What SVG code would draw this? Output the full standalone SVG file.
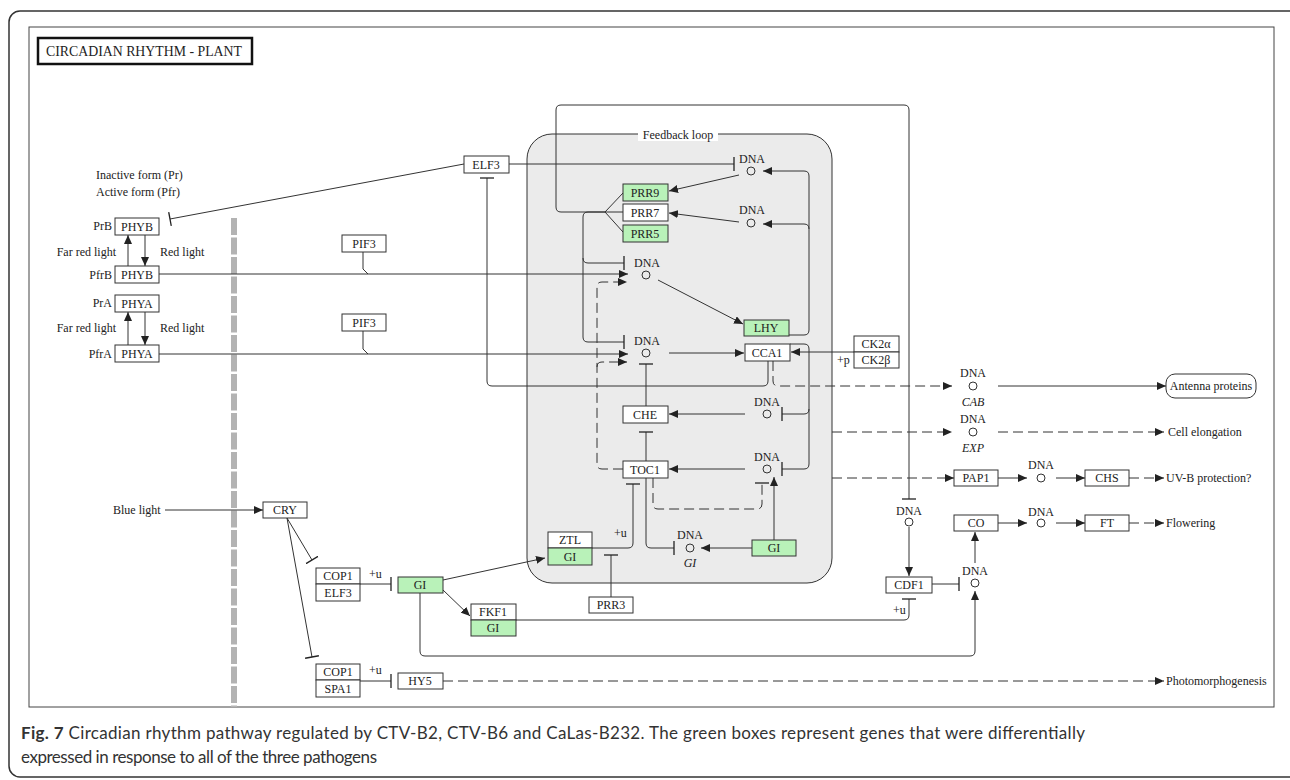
<svg xmlns="http://www.w3.org/2000/svg" width="1290" height="780" viewBox="0 0 1290 780">
<style>
.t{font-family:"Liberation Serif","Times New Roman",serif;font-size:12px;fill:#222}
.c{text-anchor:middle}
.r{text-anchor:end}
.i{font-style:italic}
.box{fill:#fff;stroke:#333;stroke-width:1}
.g{fill:#b9f2b9;stroke:#333;stroke-width:1}
.ln{fill:none;stroke:#333;stroke-width:1}
.d{stroke-dasharray:10 5}
.a{marker-end:url(#arr)}
.tb{marker-end:url(#tee)}
.dna{fill:none;stroke:#333;stroke-width:1}
.cap{font-family:Lato,"Open Sans",sans-serif;font-size:17px;fill:#333}
</style>
<defs>
<marker id="arr" markerUnits="userSpaceOnUse" markerWidth="9" markerHeight="8" refX="9" refY="4" orient="auto" viewBox="0 0 9 8"><path d="M0,0 L9,4 L0,8 z" fill="#222"/></marker>
<marker id="tee" markerUnits="userSpaceOnUse" markerWidth="4" markerHeight="14" refX="2" refY="7" orient="auto" viewBox="0 0 4 14"><path d="M2,0 V14" stroke="#222" stroke-width="1.3"/></marker>
</defs>
<rect width="1290" height="780" fill="#fff"/>
<rect x="9" y="11" width="1310" height="766" rx="11" fill="none" stroke="#333" stroke-width="1.5"/>
<rect x="29" y="27" width="1245" height="680" fill="none" stroke="#444" stroke-width="1"/>
<g id="title"><rect x="38" y="38" width="214" height="26" fill="#fff" stroke="#111" stroke-width="2.5"/><text class="t" x="46" y="56" style="font-size:14px" textLength="196" lengthAdjust="spacingAndGlyphs">CIRCADIAN  RHYTHM - PLANT</text></g>
<line x1="234" y1="218" x2="234" y2="707" stroke="#b3b3b3" stroke-width="6" stroke-dasharray="17 2.5"/>
<g id="feedback-loop"><rect x="527" y="134" width="305" height="449" rx="25" fill="#ebebeb" stroke="#333"/><rect x="638" y="128" width="80" height="13" fill="#fff"/><text class="t c" x="678" y="139">Feedback loop</text></g>
<g id="connectors">
<path class="ln tb" d="M464,164 L170,219"/>
<path class="ln a" d="M128,266 V235"/>
<path class="ln a" d="M145,235 V266"/>
<path class="ln a" d="M128,345 V312"/>
<path class="ln a" d="M145,312 V345"/>
<path class="ln a" d="M159,274 H628"/>
<path class="ln" d="M363,252 V269 L368,274"/>
<path class="ln a" d="M159,354 H628"/>
<path class="ln" d="M363,331 V349 L368,354"/>
<path class="ln tb" d="M509,164 H734"/>
<path class="ln tb" d="M768,361 V381 Q768,386 763,386 H492 Q487,386 487,381 V178"/>
<path class="ln tb" d="M605,212 H561 Q556,212 556,207 V110 Q556,105 561,105 H904 Q909,105 909,110 V499"/>
<path class="ln" d="M605,212 L623,193 M605,212 H623 M605,212 L623,232"/>
<path class="ln tb" d="M605,212 H588 Q583,212 583,217 V337 Q583,342 588,342 H624"/>
<path class="ln tb" d="M583,258 Q583,263 588,263 H624"/>
<path class="ln a" d="M739,175 L669,191"/>
<path class="ln a" d="M739,222 L669,213"/>
<path class="ln a" d="M789,335 H804 Q809,335 809,330 V176 Q809,171 804,171 H763"/>
<path class="ln a" d="M809,229 Q809,224 804,224 H763"/>
<path class="ln tb" d="M790,344 H804 Q809,344 809,349 V409 Q809,414 804,414 H782"/>
<path class="ln tb" d="M809,409 V464 Q809,469 804,469 H782"/>
<path class="ln a" d="M658,280 L743,324"/>
<path class="ln a" d="M669,353 H744"/>
<path class="ln a" d="M854,352 H791"/>
<path class="ln d a" d="M623,469 H602 Q597,469 597,464 V287 Q597,282 602,282 H627"/>
<path class="ln d a" d="M597,367 Q597,362 602,362 H627"/>
<path class="ln tb" d="M646,406 V364"/>
<path class="ln tb" d="M646,461 V432"/>
<path class="ln a" d="M745,414 H669"/>
<path class="ln a" d="M745,469 H669"/>
<path class="ln d tb" d="M653,478 V504 Q653,509 658,509 H757 Q762,509 762,504 V483"/>
<path class="ln a" d="M774,540 V477"/>
<path class="ln a" d="M752,548 H701"/>
<path class="ln tb" d="M646,478 V543 Q646,548 651,548 H674"/>
<path class="ln tb" d="M592,548 H628 Q633,548 633,543 V484"/>
<path class="ln tb" d="M611,597 V555"/>
<path class="ln a" d="M443,580 L545,558"/>
<path class="ln a" d="M443,590 L470,616"/>
<path class="ln tb" d="M516,620 H904 Q909,620 909,615 V599"/>
<path class="ln a" d="M420,593 V651 Q420,656 425,656 H970 Q975,656 975,651 V591"/>
<path class="ln a" d="M909,527 V576"/>
<path class="ln tb" d="M932,584 H959"/>
<path class="ln a" d="M975,563 V532"/>
<path class="ln a" d="M998,523 H1027"/>
<path class="ln a" d="M1056,523 H1085"/>
<path class="ln d a" d="M1129,523 H1164"/>
<path class="ln a" d="M998,478 H1027"/>
<path class="ln a" d="M1056,478 H1085"/>
<path class="ln d a" d="M1129,478 H1164"/>
<path class="ln d a" d="M773,361 V381 Q773,386 778,386 H952"/>
<path class="ln d a" d="M832,432 H952"/>
<path class="ln d a" d="M832,478 H954"/>
<path class="ln a" d="M998,386 H1166"/>
<path class="ln d a" d="M998,432 H1164"/>
<path class="ln tb" d="M360,584 H391"/>
<path class="ln tb" d="M360,681 H391"/>
<path class="ln d a" d="M443,681 H1164"/>
<path class="ln a" d="M165,510 H263"/>
<path class="ln tb" d="M287,518 L312,560"/>
<path class="ln tb" d="M287,518 L312,657"/>
<text class="t" x="614" y="537">+u</text>
<text class="t" x="893" y="614">+u</text>
<text class="t" x="369" y="578">+u</text>
<text class="t" x="369" y="674">+u</text>
<text class="t" x="837" y="364">+p</text>
</g>
<g id="labels">
<text class="t" x="96" y="179">Inactive form (Pr)</text>
<text class="t" x="96" y="196">Active form (Pfr)</text>
<text class="t r" x="116" y="256">Far red light</text>
<text class="t" x="160" y="256">Red light</text>
<text class="t r" x="116" y="332">Far red light</text>
<text class="t" x="160" y="332">Red light</text>
<text class="t r" x="112" y="230">PrB</text>
<text class="t r" x="112" y="279">PfrB</text>
<text class="t r" x="112" y="307">PrA</text>
<text class="t r" x="112" y="358">PfrA</text>
<text class="t" x="113" y="514">Blue light</text>
<text class="t" x="1168" y="436">Cell elongation</text>
<text class="t" x="1166" y="482">UV-B protection?</text>
<text class="t" x="1166" y="527">Flowering</text>
<text class="t" x="1166" y="685">Photomorphogenesis</text>
</g>
<g id="PHYB-r"><rect class="box" x="115" y="218" width="44" height="17"/><text class="t c" x="137" y="231">PHYB</text></g>
<g id="PHYB-fr"><rect class="box" x="115" y="266" width="44" height="17"/><text class="t c" x="137" y="279">PHYB</text></g>
<g id="PHYA-r"><rect class="box" x="115" y="295" width="44" height="17"/><text class="t c" x="137" y="308">PHYA</text></g>
<g id="PHYA-fr"><rect class="box" x="115" y="345" width="44" height="17"/><text class="t c" x="137" y="358">PHYA</text></g>
<g id="PIF3-1"><rect class="box" x="342" y="235" width="44" height="17"/><text class="t c" x="364" y="248">PIF3</text></g>
<g id="PIF3-2"><rect class="box" x="342" y="314" width="44" height="17"/><text class="t c" x="364" y="327">PIF3</text></g>
<g id="ELF3"><rect class="box" x="464" y="156" width="45" height="17"/><text class="t c" x="486" y="169">ELF3</text></g>
<g id="PRR9"><rect class="g" x="623" y="184" width="45" height="17"/><text class="t c" x="645" y="197">PRR9</text></g>
<g id="PRR7"><rect class="box" x="623" y="204" width="45" height="17"/><text class="t c" x="645" y="217">PRR7</text></g>
<g id="PRR5"><rect class="g" x="623" y="225" width="45" height="17"/><text class="t c" x="645" y="238">PRR5</text></g>
<g id="DNA-PRR9"><text class="t c" x="752" y="163">DNA</text><circle class="dna" cx="751" cy="171" r="4"/></g>
<g id="DNA-PRR7"><text class="t c" x="752" y="214">DNA</text><circle class="dna" cx="751" cy="223" r="4"/></g>
<g id="DNA-LHY"><text class="t c" x="647" y="267">DNA</text><circle class="dna" cx="646" cy="275" r="4"/></g>
<g id="LHY"><rect class="g" x="744" y="320" width="45" height="16"/><text class="t c" x="766" y="332">LHY</text></g>
<g id="DNA-CCA1"><text class="t c" x="647" y="345">DNA</text><circle class="dna" cx="646" cy="353" r="4"/></g>
<g id="CCA1"><rect class="box" x="745" y="344" width="45" height="17"/><text class="t c" x="767" y="357">CCA1</text></g>
<g id="CK2"><rect class="box" x="854" y="336" width="45" height="16"/><rect class="box" x="854" y="352" width="45" height="16"/><text class="t c" x="876" y="348">CK2α</text><text class="t c" x="876" y="364">CK2β</text></g>
<g id="DNA-CHE"><text class="t c" x="767" y="406">DNA</text><circle class="dna" cx="767" cy="414" r="4"/></g>
<g id="CHE"><rect class="box" x="623" y="406" width="45" height="17"/><text class="t c" x="645" y="419">CHE</text></g>
<g id="DNA-TOC1"><text class="t c" x="767" y="461">DNA</text><circle class="dna" cx="767" cy="469" r="4"/></g>
<g id="TOC1"><rect class="box" x="623" y="461" width="45" height="17"/><text class="t c" x="645" y="474">TOC1</text></g>
<g id="ZTL-GI"><rect class="box" x="548" y="532" width="44" height="16"/><rect class="g" x="548" y="548" width="44" height="17"/><text class="t c" x="570" y="544">ZTL</text><text class="t c" x="570" y="561">GI</text></g>
<g id="DNA-GI"><text class="t c" x="690" y="539">DNA</text><circle class="dna" cx="690" cy="548" r="4"/><text class="t c i" x="690" y="567">GI</text></g>
<g id="GI-right"><rect class="g" x="752" y="540" width="44" height="16"/><text class="t c" x="774" y="552">GI</text></g>
<g id="PRR3"><rect class="box" x="589" y="597" width="44" height="16"/><text class="t c" x="611" y="609">PRR3</text></g>
<g id="CRY"><rect class="box" x="263" y="502" width="44" height="16"/><text class="t c" x="285" y="514">CRY</text></g>
<g id="COP1-ELF3"><rect class="box" x="316" y="568" width="44" height="16"/><rect class="box" x="316" y="584" width="44" height="17"/><text class="t c" x="338" y="580">COP1</text><text class="t c" x="338" y="597">ELF3</text></g>
<g id="GI-left"><rect class="g" x="398" y="577" width="45" height="16"/><text class="t c" x="420" y="589">GI</text></g>
<g id="FKF1-GI"><rect class="box" x="471" y="604" width="45" height="16"/><rect class="g" x="471" y="620" width="45" height="16"/><text class="t c" x="493" y="616">FKF1</text><text class="t c" x="493" y="632">GI</text></g>
<g id="COP1-SPA1"><rect class="box" x="316" y="664" width="44" height="16"/><rect class="box" x="316" y="680" width="44" height="17"/><text class="t c" x="338" y="676">COP1</text><text class="t c" x="338" y="693">SPA1</text></g>
<g id="HY5"><rect class="box" x="398" y="673" width="45" height="16"/><text class="t c" x="420" y="685">HY5</text></g>
<g id="DNA-CDF1"><text class="t c" x="909" y="515">DNA</text><circle class="dna" cx="909" cy="522" r="4"/></g>
<g id="CDF1"><rect class="box" x="886" y="577" width="46" height="16"/><text class="t c" x="909" y="589">CDF1</text></g>
<g id="DNA-CO"><text class="t c" x="975" y="575">DNA</text><circle class="dna" cx="975" cy="583" r="4"/></g>
<g id="CO"><rect class="box" x="954" y="515" width="44" height="16"/><text class="t c" x="976" y="527">CO</text></g>
<g id="DNA-FT"><text class="t c" x="1041" y="516">DNA</text><circle class="dna" cx="1041" cy="523" r="4"/></g>
<g id="FT"><rect class="box" x="1085" y="515" width="44" height="16"/><text class="t c" x="1107" y="527">FT</text></g>
<g id="PAP1"><rect class="box" x="954" y="470" width="44" height="16"/><text class="t c" x="976" y="482">PAP1</text></g>
<g id="DNA-CHS"><text class="t c" x="1041" y="469">DNA</text><circle class="dna" cx="1041" cy="478" r="4"/></g>
<g id="CHS"><rect class="box" x="1085" y="470" width="44" height="16"/><text class="t c" x="1107" y="482">CHS</text></g>
<g id="DNA-CAB"><text class="t c" x="973" y="377">DNA</text><circle class="dna" cx="973" cy="386" r="4"/><text class="t c i" x="973" y="406">CAB</text></g>
<g id="DNA-EXP"><text class="t c" x="973" y="423">DNA</text><circle class="dna" cx="973" cy="432" r="4"/><text class="t c i" x="973" y="452">EXP</text></g>
<g id="Antenna"><rect class="box" x="1166" y="374" width="90" height="24" rx="9"/><text class="t c" x="1211" y="390">Antenna proteins</text></g>
<g id="caption">
<text class="cap" x="21" y="739" textLength="1064" lengthAdjust="spacing"><tspan font-weight="bold">Fig. 7</tspan> Circadian rhythm pathway regulated by CTV-B2, CTV-B6 and CaLas-B232. The green boxes represent genes that were differentially</text>
<text class="cap" x="21" y="763" textLength="356" lengthAdjust="spacing">expressed in response to all of the three pathogens</text>
</g>
</svg>
